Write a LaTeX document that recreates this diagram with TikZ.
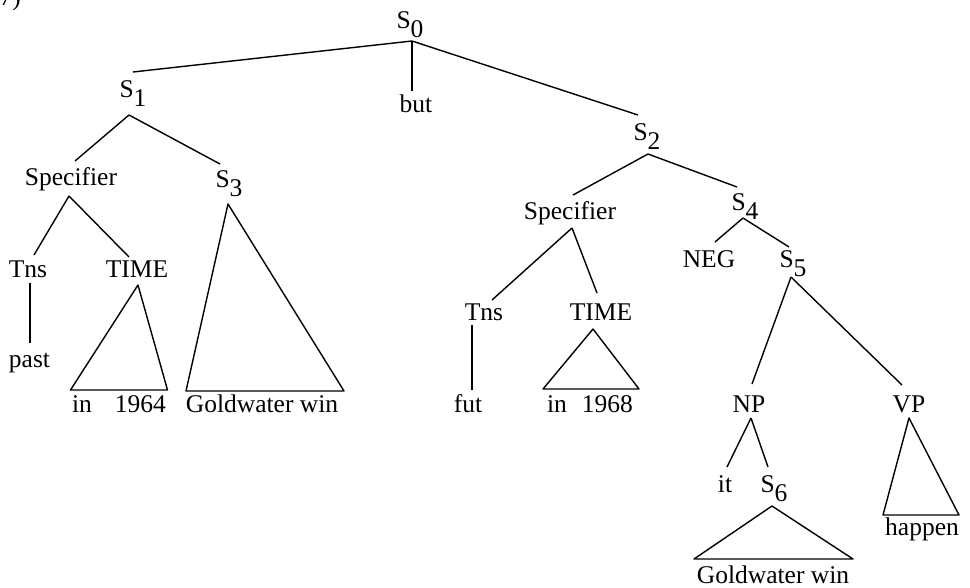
\documentclass[tikz,border=0pt]{standalone}
\usepackage{fontspec}
\setmainfont{Liberation Serif}
\newcommand{\Sn}[1]{S\raisebox{-9pt}{#1}}
\begin{document}
\begin{tikzpicture}[x=1pt,y=-1pt,
  every node/.style={font=\fontsize{25.5}{28}\selectfont, inner sep=0pt, anchor=base},
  edge/.style={line width=1.4pt, line join=round}]
\useasboundingbox (0,0) rectangle (970,587);
% label (partially cut at the top edge, as in the reference)
\node[anchor=base east] (num) at (21,5) {(7)};
% nodes
\node (s0) at (410,28) {\Sn{0}};
\node (but) at (416,112) {but};
\node (s1) at (133,97) {\Sn{1}};
\node (spec1) at (71,185) {Specifier};
\node (s3) at (229,187) {\Sn{3}};
\node (tns1) at (28,277) {Tns};
\node (time1) at (137,277) {TIME};
\node (past) at (29.5,367) {past};
\node (in64) at (119,412) {in\hspace{23pt}1964};
\node (gw1) at (262,412) {Goldwater win};
\node (s2) at (647,140) {\Sn{2}};
\node (spec2) at (570,219) {Specifier};
\node (s4) at (745,210) {\Sn{4}};
\node (tns2) at (484,320) {Tns};
\node (time2) at (601,320) {TIME};
\node (fut) at (468,412) {fut};
\node (in68) at (590,412) {in\hspace{15pt}1968};
\node (neg) at (709,267) {NEG};
\node (s5) at (793,267) {\Sn{5}};
\node (np) at (749,412) {NP};
\node (vp) at (909,412) {VP};
\node (it) at (725,492) {it};
\node (s6) at (774,492) {\Sn{6}};
\node (gw2) at (773,583) {Goldwater win};
\node (hap) at (922,535) {happen};
% connectors
\draw[edge] ([shift={(2,13)}]s0.base) -- ([shift={(0,-25)}]s1.base);
\draw[edge] ([shift={(2,13)}]s0.base) -- ([shift={(-4,-21)}]but.base);
\draw[edge] ([shift={(2,13)}]s0.base) -- ([shift={(-9,-25)}]s2.base);
\draw[edge] ([shift={(-4,18)}]s1.base) -- ([shift={(4,-24)}]spec1.base);
\draw[edge] ([shift={(-4,18)}]s1.base) -- ([shift={(-9,-23)}]s3.base);
\draw[edge] ([shift={(-2,11)}]spec1.base) -- ([shift={(6,-22)}]tns1.base);
\draw[edge] ([shift={(-2,11)}]spec1.base) -- ([shift={(-8,-20)}]time1.base);
\draw[edge] ([shift={(2,6)}]tns1.base) -- ([shift={(0.5,-24)}]past.base);
\draw[edge] ([shift={(1,8)}]time1.base) -- ([shift={(-48.5,-22)}]in64.base) -- ([shift={(48.5,-22)}]in64.base) -- cycle;
\draw[edge] ([shift={(-1,17)}]s3.base) -- ([shift={(-76,-21)}]gw1.base) -- ([shift={(82,-21)}]gw1.base) -- cycle;
\draw[edge] ([shift={(1,14)}]s2.base) -- ([shift={(3,-24)}]spec2.base);
\draw[edge] ([shift={(1,14)}]s2.base) -- ([shift={(-8,-23)}]s4.base);
\draw[edge] ([shift={(2,9)}]spec2.base) -- ([shift={(8,-20)}]tns2.base);
\draw[edge] ([shift={(2,9)}]spec2.base) -- ([shift={(-4,-27)}]time2.base);
\draw[edge] ([shift={(-12,5)}]tns2.base) -- ([shift={(4,-22)}]fut.base);
\draw[edge] ([shift={(-8,9)}]time2.base) -- ([shift={(-47,-23)}]in68.base) -- ([shift={(49,-23)}]in68.base) -- cycle;
\draw[edge] ([shift={(-2,8)}]s4.base) -- ([shift={(6,-25)}]neg.base);
\draw[edge] ([shift={(-2,8)}]s4.base) -- ([shift={(-4,-20)}]s5.base);
\draw[edge] ([shift={(-2,10)}]s5.base) -- ([shift={(3,-28)}]np.base);
\draw[edge] ([shift={(-2,10)}]s5.base) -- ([shift={(-7,-27)}]vp.base);
\draw[edge] ([shift={(2,6)}]np.base) -- ([shift={(2,-25)}]it.base);
\draw[edge] ([shift={(2,6)}]np.base) -- ([shift={(-6,-25)}]s6.base);
\draw[edge] ([shift={(-2,14)}]s6.base) -- ([shift={(-79,-24)}]gw2.base) -- ([shift={(80,-24)}]gw2.base) -- cycle;
\draw[edge] ([shift={(0,6)}]vp.base) -- ([shift={(-39,-20)}]hap.base) -- ([shift={(37,-20)}]hap.base) -- cycle;
\end{tikzpicture}
\end{document}
